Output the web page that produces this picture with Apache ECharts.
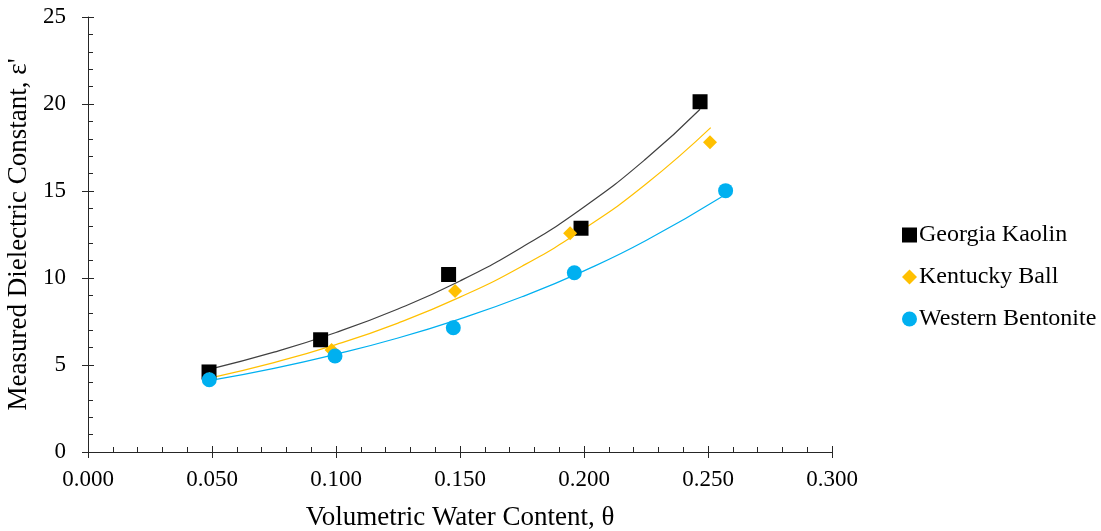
<!DOCTYPE html>
<html>
<head>
<meta charset="utf-8">
<script src="https://cdn.jsdelivr.net/npm/echarts@6/dist/echarts.min.js"></script>
<style>
  html, body { margin: 0; padding: 0; background: #fff; }
  #chart { width: 1101px; height: 531px; }
</style>
</head>
<body>
<div id="chart"></div>
<script>
// Measured points: [volumetric water content, dielectric constant]
const georgiaKaolin = [[0.0488, 4.6], [0.0938, 6.45], [0.1454, 10.2], [0.1988, 12.86], [0.2468, 20.13]];
const kentuckyBall = [[0.0490, 4.2], [0.0982, 5.86], [0.1480, 9.25], [0.1944, 12.57], [0.2508, 17.8]];
const westernBentonite = [[0.0489, 4.15], [0.0996, 5.52], [0.1473, 7.14], [0.1961, 10.3], [0.2571, 15.02]];

// Fitted trend curves, sampled along each series' range
const georgiaTrend = [[0.0488, 4.75], [0.075, 5.74], [0.100, 6.87], [0.125, 8.22], [0.150, 9.83], [0.175, 11.77], [0.200, 14.08], [0.225, 16.85], [0.2468, 19.7]];
const kentuckyTrend = [[0.0490, 4.25], [0.075, 5.14], [0.100, 6.17], [0.125, 7.41], [0.150, 8.90], [0.175, 10.68], [0.200, 12.83], [0.225, 15.40], [0.2511, 18.64]];
const westernTrend = [[0.0489, 4.1], [0.075, 4.81], [0.100, 5.62], [0.125, 6.55], [0.150, 7.65], [0.175, 8.92], [0.200, 10.41], [0.225, 12.15], [0.2571, 14.8]];

const seriesNames = ['Georgia Kaolin', 'Kentucky Ball', 'Western Bentonite'];
const markerColors = ['#000000', '#FFC000', '#00B0F0'];
const trendColors = ['#404040', '#FFC000', '#00B0F0'];

const font = "'Liberation Serif', 'Times New Roman', serif";
const axisColor = '#262626';

const chart = echarts.init(document.getElementById('chart'), null, { renderer: 'canvas' });

const option = {
  animation: false,
  backgroundColor: '#ffffff',
  textStyle: { fontFamily: font },
  grid: { left: 88, right: 269, top: 17, bottom: 79, outerBoundsMode: 'none', containLabel: false },
  legend: {
    orient: 'vertical',
    left: 897,
    top: 218,
    itemGap: 18,
    itemWidth: 15,
    itemHeight: 15,
    data: [
      { name: seriesNames[0], icon: 'rect' },
      { name: seriesNames[1], icon: 'diamond' },
      { name: seriesNames[2], icon: 'circle' }
    ],
    textStyle: { fontFamily: font, fontSize: 24, color: '#000', padding: [0, 0, 0, -3] }
  },
  xAxis: [
    {
      type: 'value', min: 0, max: 0.3, interval: 0.05,
      name: 'Volumetric Water Content, θ',
      nameLocation: 'middle', nameGap: 52,
      nameTextStyle: { fontFamily: font, fontSize: 27, color: '#000' },
      axisLine: { show: true, onZero: false, lineStyle: { color: axisColor, width: 1 } },
      axisTick: { show: true, inside: true, length: 6, lineStyle: { color: axisColor } },
      minorTick: { show: true, splitNumber: 5, length: 5, lineStyle: { color: axisColor } },
      splitLine: { show: false },
      axisLabel: { fontFamily: font, fontSize: 23, color: '#000', margin: 16, formatter: v => v.toFixed(3) }
    },
    {
      type: 'value', min: 0, max: 0.3, interval: 0.05, position: 'bottom',
      axisLine: { show: false },
      axisTick: { show: true, inside: false, length: 6, lineStyle: { color: axisColor } },
      axisLabel: { show: false }, splitLine: { show: false }
    }
  ],
  yAxis: [
    {
      type: 'value', min: 0, max: 25, interval: 5,
      name: 'Measured Dielectric Constant, ε\'',
      nameLocation: 'middle', nameGap: 52,
      nameTextStyle: { fontFamily: font, fontSize: 27, color: '#000' },
      axisLine: { show: true, onZero: false, lineStyle: { color: axisColor, width: 1 } },
      axisTick: { show: true, inside: true, length: 6, lineStyle: { color: axisColor } },
      minorTick: { show: true, splitNumber: 5, length: 5, lineStyle: { color: axisColor } },
      splitLine: { show: false },
      axisLabel: { fontFamily: font, fontSize: 23, color: '#000', margin: 22 }
    },
    {
      type: 'value', min: 0, max: 25, interval: 5, position: 'left',
      axisLine: { show: false },
      axisTick: { show: true, inside: false, length: 6, lineStyle: { color: axisColor } },
      axisLabel: { show: false }, splitLine: { show: false }
    }
  ],
  series: [
    { name: 'Georgia Kaolin trend', type: 'line', smooth: true, showSymbol: false, data: georgiaTrend, lineStyle: { color: trendColors[0], width: 1.2 }, z: 2, silent: true },
    { name: 'Kentucky Ball trend', type: 'line', smooth: true, showSymbol: false, data: kentuckyTrend, lineStyle: { color: trendColors[1], width: 1.2 }, z: 2, silent: true },
    { name: 'Western Bentonite trend', type: 'line', smooth: true, showSymbol: false, data: westernTrend, lineStyle: { color: trendColors[2], width: 1.2 }, z: 2, silent: true },
    { name: seriesNames[0], type: 'scatter', symbol: 'rect', symbolSize: 15, data: georgiaKaolin, itemStyle: { color: markerColors[0], opacity: 1 }, z: 3 },
    { name: seriesNames[1], type: 'scatter', symbol: 'diamond', symbolSize: 14, data: kentuckyBall, itemStyle: { color: markerColors[1], opacity: 1 }, z: 4 },
    { name: seriesNames[2], type: 'scatter', symbol: 'circle', symbolSize: 15, data: westernBentonite, itemStyle: { color: markerColors[2], opacity: 1 }, z: 5 }
  ]
};

chart.setOption(option);
</script>
</body>
</html>
